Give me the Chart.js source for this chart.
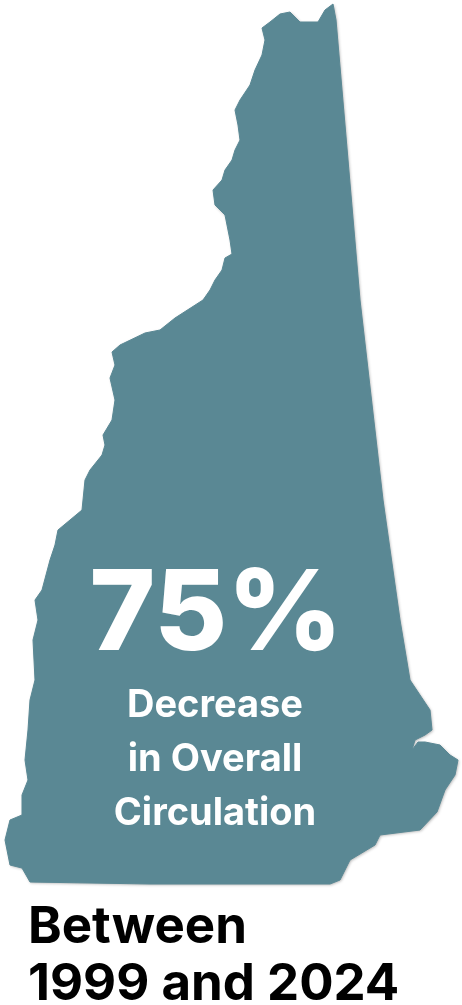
<!DOCTYPE html><html><head><meta charset="utf-8">
<script src="https://cdn.jsdelivr.net/npm/chart.js"></script>
<style>html,body{margin:0;padding:0;background:#fff}#w{width:462px;height:1005px}</style></head><body>
<div id="w"><canvas id="c"></canvas></div>
<script>
const outlineX=[265,262,270,280,290,300,318,325,333,336,360,383,400,410,430,432,425,415,412,418,425,440,450,458,455,445,437,420,380,375,350,345,340,330,250,150,30,22,10,5,10,22,22,28,25,28,30,35,33,38,35,42,50,55,58,70,82,85,90,102,105,103,112,115,110,115,112,120,145,160,175,203,210,215,222,225,232,230,228,225,215,213,222,225,232,235,240,238,235,240,250,255,262,265];
const outlineY=[40,28,22,14,12,22,22,10,4,20,300,500,620,680,710,730,735,740,750,742,742,745,755,760,775,790,812,830,835,845,860,870,880,884,884,884,882,868,865,840,820,815,795,780,760,730,700,680,640,620,600,590,560,545,530,520,510,480,470,455,445,435,420,400,378,365,352,345,333,330,318,300,290,280,270,258,254,240,230,215,205,190,180,170,160,150,140,125,110,100,85,70,55,40];
const headline="75%";
const subLines=["Decrease","in Overall","Circulation"];
const footLines=["Between","1999 and 2024"];
const pts=outlineX.map((x,i)=>({x,y:outlineY[i]}));
const textPlugin={id:'t',
beforeDatasetsDraw(ch){const c=ch.ctx,els=ch.getDatasetMeta(0).data;c.save();c.beginPath();els.forEach((p,i)=>i?c.lineTo(p.x,p.y):c.moveTo(p.x,p.y));c.closePath();
c.shadowColor='rgba(0,0,0,0.3)';c.shadowBlur=3;c.shadowOffsetX=1;c.shadowOffsetY=1;c.fillStyle='#5a8894';c.fill();c.restore();},
afterDatasetsDraw(ch){const c=ch.ctx,sx=ch.scales.x,sy=ch.scales.y;c.save();c.textAlign='center';c.fillStyle='#fff';
c.font='800 112px Inter';c.fillText(headline,sx.getPixelForValue(216),sy.getPixelForValue(650));
c.font='700 38px Inter';subLines.forEach((s,i)=>c.fillText(s,sx.getPixelForValue(215),sy.getPixelForValue(717+i*54)));
c.textAlign='left';c.fillStyle='#000';c.font='700 51px Inter';footLines.forEach((s,i)=>c.fillText(s,sx.getPixelForValue(28),sy.getPixelForValue(943+i*57)));
c.restore();}};
new Chart(document.getElementById('c'),{type:'scatter',data:{datasets:[{data:pts,showLine:true,fill:false,backgroundColor:'#5a8894',borderColor:'#5a8894',borderWidth:1,pointRadius:0,tension:0}]},
options:{responsive:true,maintainAspectRatio:false,animation:false,layout:{padding:0},plugins:{legend:{display:false},tooltip:{enabled:false}},
scales:{x:{type:'linear',min:0,max:462,display:false},y:{type:'linear',min:0,max:1005,reverse:true,display:false}}},plugins:[textPlugin]});
</script></body></html>
